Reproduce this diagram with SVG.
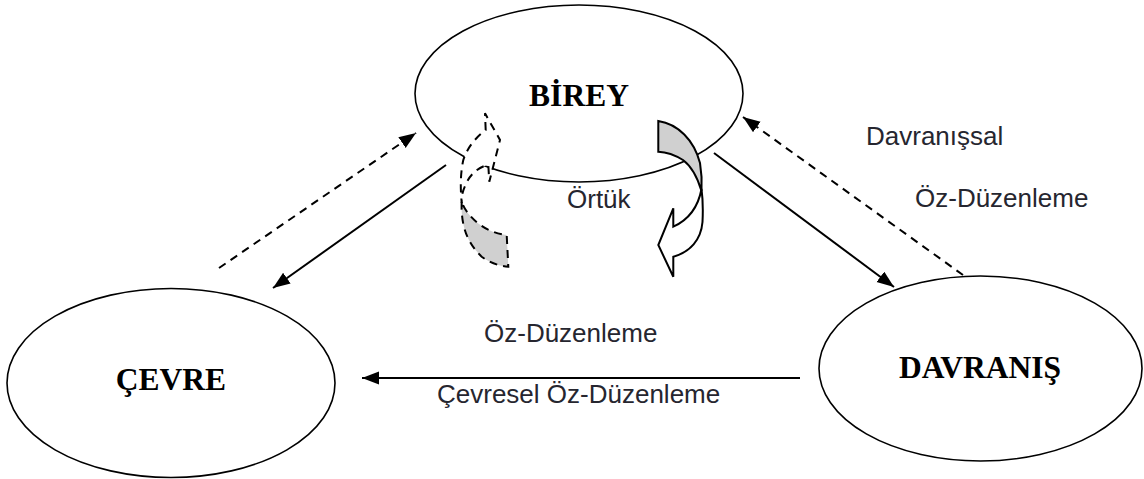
<svg xmlns="http://www.w3.org/2000/svg" width="1144" height="479" viewBox="0 0 1144 479">
<style>
.node{fill:#fff;stroke:#000;stroke-width:1.6}
.title{font-family:"Liberation Serif","Times New Roman",serif;font-weight:bold;font-size:31.5px;fill:#000;text-anchor:middle}
.lbl{font-family:"Liberation Sans",Arial,sans-serif;font-size:26px;fill:#26262f}
.conn{stroke:#000;stroke-width:2;fill:none}
.dash{stroke-dasharray:8,6}
.band{stroke:#000;stroke-width:2;stroke-linejoin:miter}
</style>
<defs>
<marker id="ah" markerUnits="userSpaceOnUse" markerWidth="18" markerHeight="14" refX="17" refY="6.5" orient="auto">
<path d="M0,0 L17,6.5 L0,13 Z" fill="#000"/>
</marker>
</defs>
<rect width="1144" height="479" fill="#fff"/>
<g id="birey">
<ellipse class="node" cx="579" cy="93.5" rx="164" ry="88.5"/>
<text class="title" x="579" y="106">BİREY</text>
</g>
<g id="cevre">
<ellipse class="node" cx="171" cy="383" rx="164" ry="94.5"/>
<text class="title" x="171" y="390">ÇEVRE</text>
</g>
<g id="davranis">
<ellipse class="node" cx="980.5" cy="368.5" rx="161.5" ry="92.5"/>
<text class="title" x="980" y="378">DAVRANIŞ</text>
</g>
<g id="connectors">
<line class="conn" x1="446" y1="165" x2="273" y2="288" marker-end="url(#ah)"/>
<line class="conn dash" x1="219" y1="268" x2="416" y2="133" marker-end="url(#ah)"/>
<line class="conn" x1="714" y1="153" x2="894" y2="287" marker-end="url(#ah)"/>
<line class="conn dash" x1="963" y1="275" x2="743" y2="117" marker-end="url(#ah)"/>
<line class="conn" x1="800" y1="378" x2="362" y2="378" marker-end="url(#ah)"/>
<g id="self-right">
<path class="band" fill="#d0d0d0" d="M658.3,121 C678,124 694,140 700,163 C702,175 702,183 701.5,191 C697,176 691,166 683,160 C675,155 666,152 658.3,151.7 Z"/>
<path class="band" fill="#fff" d="M701.5,189 C703,200 703,212 702.5,222 C701,240 690,252 673.3,256.7 L673.3,276.7 L658.3,245 L673.3,208.3 L673.3,226.7 C688,220 698,208 701.5,189 Z"/>
</g>
<g id="self-left">
<path class="band dash" fill="#fff" d="M485.7,130 L485,113.3 L500,140 L489.3,181.7 L488.3,165 C480,166 470,174 466,184 C462,192 461.5,197 461.7,203 C460.5,190 460,175 463.3,160 C467,148 476,137 485.7,130 Z"/>
<path class="band dash" fill="#d0d0d0" d="M461.7,201.7 C461,220 464,240 481.7,256.7 C490,263 499,266 508.3,266.7 L506.7,235 C498,234 488,231 479,224 C470,217 464,209 461.7,201.7 Z"/>
</g>
</g>
<g id="labels">
<text class="lbl" x="866" y="145">Davranışsal</text>
<text class="lbl" x="915" y="207">Öz-Düzenleme</text>
<text class="lbl" x="567" y="208">Örtük</text>
<text class="lbl" x="484" y="342">Öz-Düzenleme</text>
<text class="lbl" x="437" y="403">Çevresel Öz-Düzenleme</text>
</g>
</svg>
